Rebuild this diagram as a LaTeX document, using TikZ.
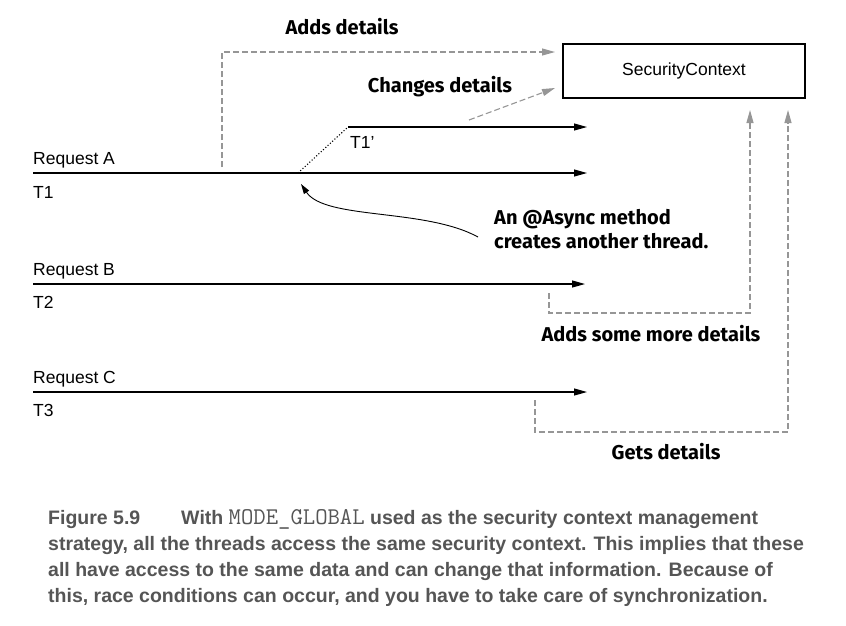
\documentclass[tikz,border=0pt]{standalone}
\usepackage{fontspec}
\setmainfont{Liberation Sans}
\newfontfamily\notefont{Fira Sans}
\newfontfamily\capfont{Liberation Sans}
\usetikzlibrary{arrows.meta}
\usetikzlibrary{positioning}
\definecolor{dashgray}{RGB}{150,150,150}
\definecolor{capgray}{RGB}{85,85,85}

\begin{document}
\begin{tikzpicture}[x=1pt,y=-1pt]
		\tikzset{thread/.style = {line width=1.1pt,-{Triangle[length=13pt,width=7pt]}}}
		\tikzset{access/.style = {dashgray,line width=1.1pt,dash pattern=on 6pt off 3pt,-{Triangle[length=13pt,width=7pt]}}}
		\tikzset{reqlabel/.style = {anchor=base west,inner sep=0pt,font=\fontsize{17.5}{20}\selectfont}}
		\tikzset{note/.style = {inner sep=0pt,font=\notefont\bfseries\fontsize{20}{24}\selectfont}}
		\useasboundingbox (0,0) rectangle (846,625);
		% nodes
		\node[draw,line width=1.1pt,minimum width=242pt,minimum height=54pt,inner sep=0pt,font=\fontsize{17.5}{20}\selectfont] (ctx) at (684,71) {SecurityContext};
		
		\node[reqlabel] (reqA) at (33,164) {Request A};
		\node[reqlabel] (t1) at (33,198) {T1};
		\node[reqlabel] (t1p) at (350,148) {T1'};
		\node[reqlabel] (reqB) at (33,275) {Request B};
		\node[reqlabel] (t2) at (33,308) {T2};
		\node[reqlabel] (reqC) at (33,383) {Request C};
		\node[reqlabel] (t3) at (33,416) {T3};
		
		\node[note] (adds) at (342,27) {Adds details};
		\node[note] (changes) at (440,87) {Changes details};
		\node[note,anchor=north west,align=left] (async) at (494,209) {An @Async method\\creates another thread.};
		\node[note] (addsmore) at (651,334) {Adds some more details};
		\node[note] (gets) at (666,452) {Gets details};
		
		% thread lines
		\coordinate (a0) at (33,173);
		\coordinate (a1) at (587,173);
		\coordinate (fork) at (298,173);
		\coordinate (p0) at (348,127);
		\coordinate (p1) at (587,127);
		\coordinate (b0) at (33,284);
		\coordinate (b1) at (585,284);
		\coordinate (c0) at (33,392);
		\coordinate (c1) at (587,392);
		
		\draw[thread] (a0) -- (a1);
		\draw[thread] (p0) -- (p1);
		\draw[line width=1.1pt,dotted] (fork) -- (p0);
		\draw[thread] (b0) -- (b1);
		\draw[thread] (c0) -- (c1);
		
		% access to the context
		\coordinate (addfrom) at (222,167);
		\coordinate (addto) at (555,52);
		\coordinate (chgfrom) at (469,120);
		\coordinate (chgto) at (555,88);
		\coordinate (bfrom) at (549,293);
		\coordinate (bturn) at (750,313);
		\coordinate (bto) at (750,110);
		\coordinate (cfrom) at (535,400);
		\coordinate (cturn) at (788,432);
		\coordinate (cto) at (788,110);
		
		\draw[access] (addfrom) |- (addto);
		\draw[access] (chgfrom) -- (chgto);
		\draw[access] (bfrom) |- (bturn) -- (bto);
		\draw[access] (cfrom) |- (cturn) -- (cto);
		
		% async arrow
		\coordinate (asyncfrom) at (478,237);
		\coordinate (forktip) at (301,184);
		\draw[line width=0.9pt,-{Triangle[length=10pt,width=6pt]}] (asyncfrom) .. controls (425,208) and (325,220) .. (forktip);
		
		% caption
		\node[anchor=north west,inner sep=0pt,align=left,text=capgray,font=\capfont\bfseries\fontsize{19.5}{26}\selectfont] (caption) at (48,509)
		{Figure 5.9\hspace{2.1em}With {\ttfamily\mdseries\fontsize{24}{26}\selectfont MODE\_GLOBAL} used as the security context management\\
		strategy, all the threads access the same security context. This implies that these\\
		all have access to the same data and can change that information. Because of\\
		this, race conditions can occur, and you have to take care of synchronization.};
		
		\end{tikzpicture}
\end{document}
